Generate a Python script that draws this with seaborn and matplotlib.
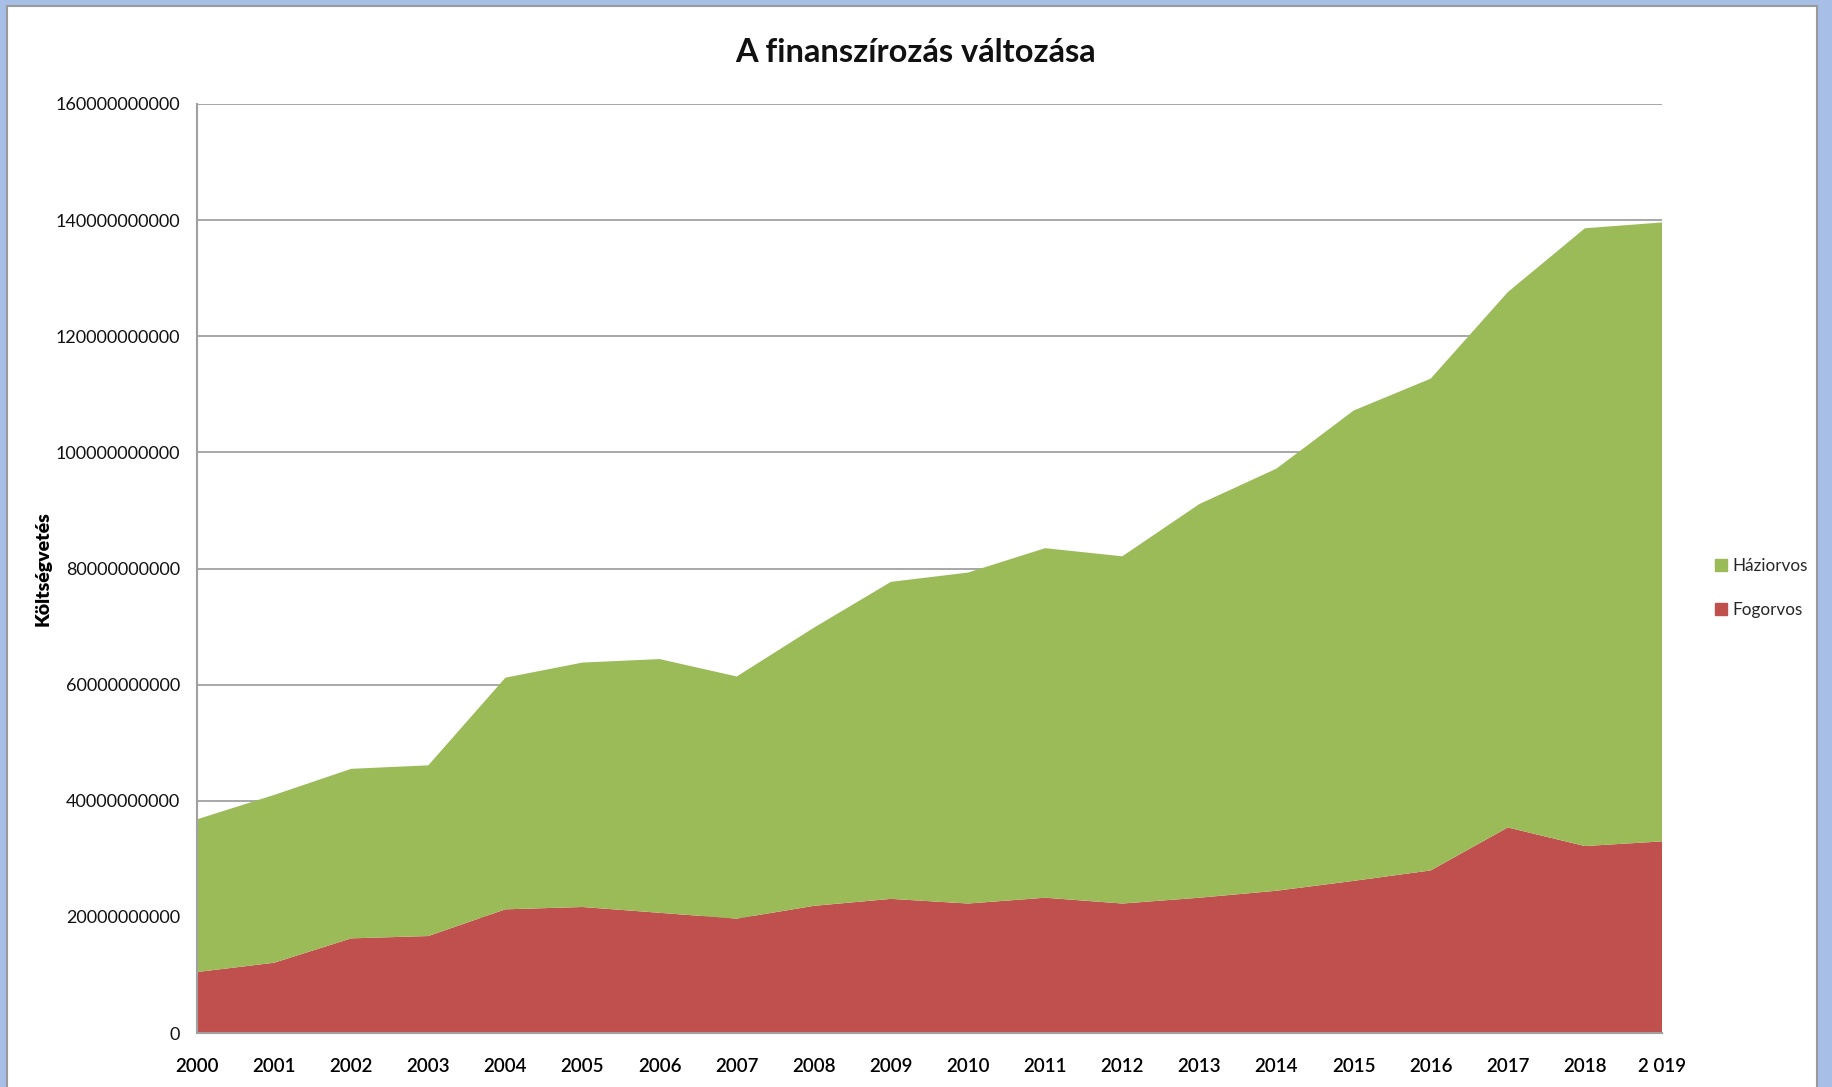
import pandas as pd
import matplotlib.pyplot as plt
import matplotlib.patches as mpatches
import seaborn as sns

sns.set_theme(style="white")
plt.rcParams['font.family'] = ['Lato', 'DejaVu Sans']

# Adatok
evek = list(range(2000, 2020))
fogorvos = [10.5, 12.1, 16.3, 16.7, 21.3, 21.7, 20.7, 19.7, 21.9, 23.1,
            22.3, 23.3, 22.3, 23.3, 24.5, 26.2, 28.0, 35.4, 32.2, 33.0]
osszes = [36.8, 41.0, 45.5, 46.1, 61.2, 63.8, 64.4, 61.4, 69.8, 77.7,
          79.3, 83.5, 82.1, 91.1, 97.2, 107.2, 112.7, 127.6, 138.6, 139.6]
haziorvos = [o - f for o, f in zip(osszes, fogorvos)]

df = pd.DataFrame({
    'ev': evek,
    'Fogorvos': [v * 1e9 for v in fogorvos],
    'Háziorvos': [v * 1e9 for v in haziorvos],
})

szinek = {'Fogorvos': '#C0504D', 'Háziorvos': '#9BBB59'}

fig = plt.figure(figsize=(18.33, 10.87), dpi=100)
fig.patch.set_facecolor('#A7BFE6')
# fehér belső panel szürke kerettel
fig.patches.append(mpatches.Rectangle((7 / 1833, -0.01), 1810 / 1833, 1 - 6 / 1087 + 0.01,
                                      transform=fig.transFigure, facecolor='white',
                                      edgecolor='#9a9a9a', linewidth=1.5, zorder=-10))

ax = fig.add_axes([197 / 1833, 1 - 1033 / 1087, (1662 - 197) / 1833, (1033 - 104) / 1087])
ax.set_facecolor('white')

ax.stackplot(df['ev'], df['Fogorvos'], df['Háziorvos'],
             colors=[szinek['Fogorvos'], szinek['Háziorvos']],
             linewidth=0, edgecolor='none', zorder=2)

ax.set_xlim(2000, 2019)
ax.set_ylim(0, 160e9)
ax.set_yticks([i * 20e9 for i in range(9)])
ax.set_yticklabels([str(i * 20000000000) for i in range(9)], fontsize=13, color='#111111')
ax.set_xticks(evek)
xlabels = [str(e) for e in evek]
xlabels[-1] = '2 019'
ax.set_xticklabels(xlabels, fontsize=13.5, color='#000000', fontweight='semibold')
ax.tick_params(axis='x', pad=18, length=0)
ax.tick_params(axis='y', pad=12, length=0)

ax.grid(axis='y', color='#a0a0a0', linewidth=1.3, zorder=1)
ax.set_axisbelow(True)
for side in ['top', 'right']:
    ax.spines[side].set_visible(False)
for side in ['left', 'bottom']:
    ax.spines[side].set_color('#a0a0a0')
    ax.spines[side].set_linewidth(1.5)
    ax.spines[side].set_zorder(3)

ax.set_ylabel('Költségvetés', fontsize=14, fontweight='heavy', color='#000000')
ax.yaxis.set_label_coords(-0.099, 0.5)

fig.text(916 / 1833, 1 - 53 / 1087, 'A finanszírozás változása', ha='center', va='center',
         fontsize=23.5, fontweight='bold', color='#111111')

kezelok = [mpatches.Patch(color=szinek['Háziorvos'], label='Háziorvos'),
           mpatches.Patch(color=szinek['Fogorvos'], label='Fogorvos')]
fig.legend(handles=kezelok, loc='center left', bbox_to_anchor=(1700 / 1833, 1 - 588 / 1087),
           frameon=False, fontsize=12.3, handlelength=0.7, handleheight=0.7,
           handletextpad=0.3, labelspacing=1.6)

fig.savefig('out.png', dpi=100, facecolor=fig.get_facecolor())
